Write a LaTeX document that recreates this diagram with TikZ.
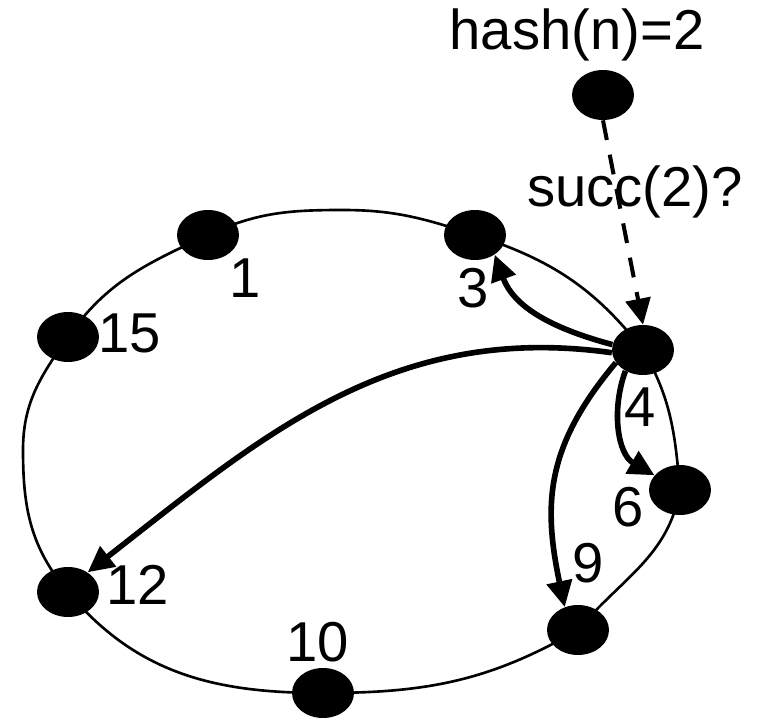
\documentclass[tikz,border=0pt]{standalone}
\usepackage{fontspec}
\setmainfont{Liberation Sans}
\usetikzlibrary{arrows.meta}
\usetikzlibrary{shapes}

\begin{document}
\begin{tikzpicture}
    [%
        x=0.02cm,y=0.02cm,%
        peer/.style={%
            fill,%
            ellipse,%
            inner sep=0pt,%
            minimum width=1.24cm,%
            minimum height=1cm%
        },%
        peer label/.style={%
            font=\fontsize{32}{36}\selectfont,%
            inner sep=0pt%
        },%
        ring/.style={%
            line width=1.5pt%
        },%
        lookup/.style={%
            line width=3.2pt,%
            -{Triangle[length=0.52cm,width=0.5cm]}%
        },%
        query/.style={%
            line width=2.3pt,%
            dash pattern=on 0.4cm off 0.3cm,%
            -{Triangle[length=0.52cm,width=0.5cm]}%
        }%
    ]%
%
    \useasboundingbox (0,0) rectangle (758,718);
    % the ring itself, clockwise from peer 1
    \draw[ring] (208,483) to[out=25,in=180] (343,508)
        to[out=0,in=162] (475,483)
        to[out=-18,in=128] (643,368)
        to[out=-60,in=95] (680,228)
        to[out=-100,in=50] (578,88)
        to[out=-150,in=0] (323,25)
        to[out=180,in=-50] (68,126)
        to[out=130,in=-90] (23,268)
        to[out=90,in=-125] (68,381)
        to[out=55,in=-155] cycle;
%
    % place each peer on the ring and its id
    % \id peer id
    % \x/\y peer position
    % \lx/\ly position of the id
    \foreach \id/\x/\y/\lx/\ly in {%
        1/208/483/245/440,%
        3/475/483/473/430,%
        4/643/368/640/311,%
        6/680/228/628/211,%
        9/578/88/588/155,%
        10/323/25/318/76,%
        12/68/126/138/133,%
        15/68/381/130/385%
    }{%
        \node[peer] (n\id) at (\x,\y) {};
        \node[peer label] (lbl-\id) at (\lx,\ly) {\id};
    } % \foreach \id/\x/\y/\lx/\ly
%
    % the new node and its query
    \node[peer] (hash) at (603,623) {};
    \node[peer label] (hash-text) at (577,683) {hash(n)=2};
    \node[peer label] (succ-text) at (635,526) {succ(2)?};
    \draw[query] (hash.south) -- (n4.north);
%
    % finger lookups from peer 4
    \draw[lookup] (n4.170) to[out=165,in=-70] (n3.-45);
    \draw[lookup] (n4.185) to[out=172,in=38] (n12.45);
    \draw[lookup] (n4.205) to[out=230,in=102,looseness=1.1] (n9.120);
    \draw[lookup] (n4.230) to[out=250,in=150] (n6.150);
\end{tikzpicture}
\end{document}
